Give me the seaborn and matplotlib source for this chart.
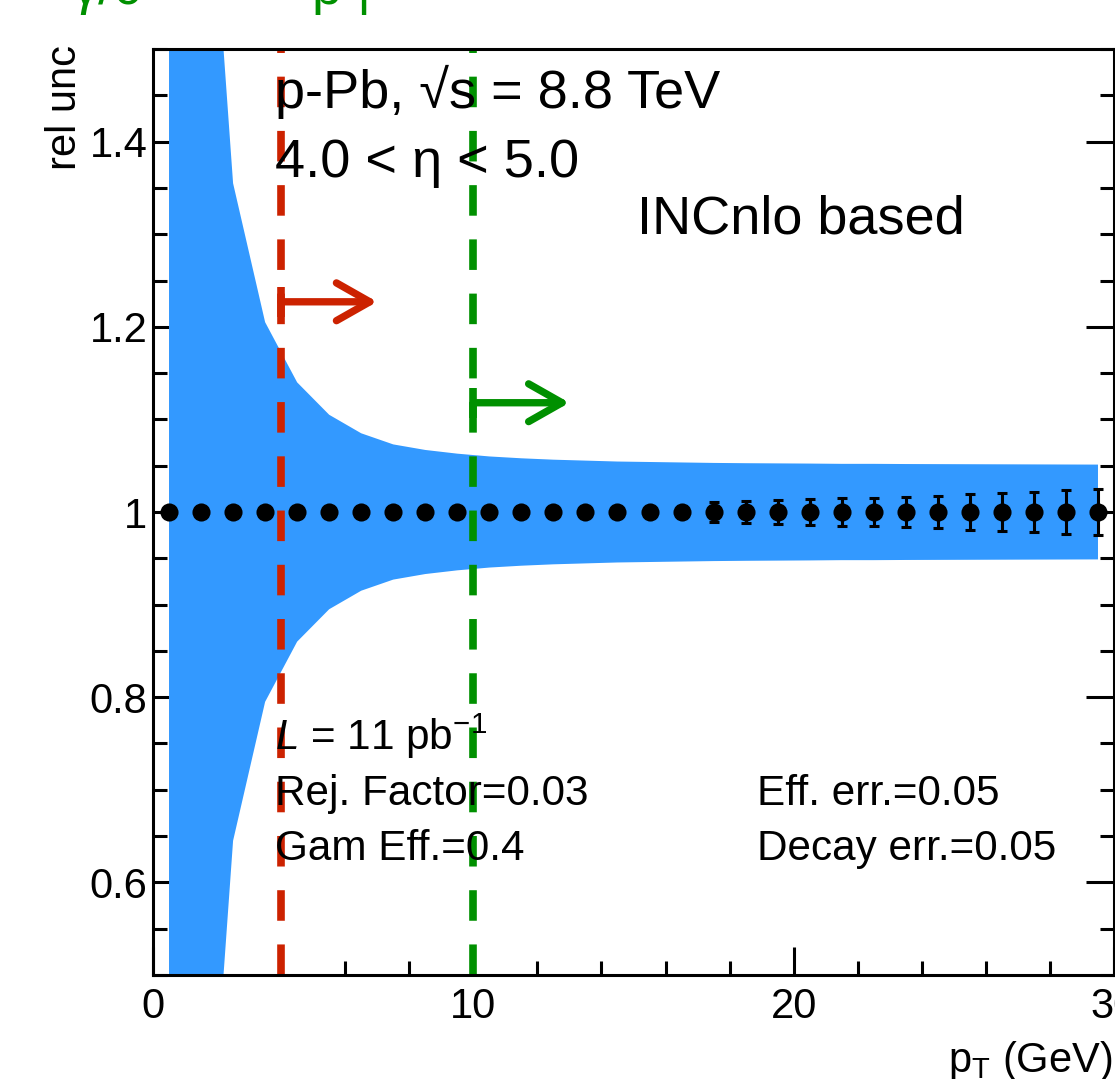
import numpy as np
import pandas as pd
import seaborn as sns
import matplotlib.pyplot as plt
from matplotlib.patches import ArrowStyle

# --------------------------
# Data
# --------------------------
pt = [0.5, 1.5, 2.5, 3.5, 4.5, 5.5, 6.5, 7.5, 8.5, 9.5,
      10.5, 11.5, 12.5, 13.5, 14.5, 15.5, 16.5, 17.5, 18.5, 19.5,
      20.5, 21.5, 22.5, 23.5, 24.5, 25.5, 26.5, 27.5, 28.5, 29.5]
rel_value = [1.0] * 30
stat_err = [0.001, 0.001, 0.001, 0.001, 0.001, 0.002, 0.002, 0.002, 0.002, 0.003,
            0.003, 0.003, 0.004, 0.004, 0.004, 0.005, 0.006, 0.0107, 0.0118, 0.0128,
            0.0139, 0.0148, 0.0155, 0.016, 0.0171, 0.019, 0.020, 0.0214, 0.0235, 0.0246]
band_half = [1.5, 0.84, 0.355, 0.205, 0.14, 0.105, 0.085, 0.073, 0.067, 0.063,
             0.060, 0.058, 0.0565, 0.0555, 0.0545, 0.054, 0.0535, 0.053, 0.0527, 0.0525,
             0.0523, 0.052, 0.052, 0.0518, 0.0517, 0.0516, 0.0515, 0.0514, 0.0513, 0.0512]

pt_cuts = [4, 10]
cut_colors = ["#cc2200", "#009000"]
arrow_y = [1.227, 1.118]
arrow_len = [3.0, 3.0]

yticks = [0.6, 0.8, 1.0, 1.2, 1.4]
ytick_labels = ["0.6", "0.8", "1", "1.2", "1.4"]
xticks = [0, 10, 20, 30]

df = pd.DataFrame({"pt": pt, "val": rel_value, "err": stat_err, "band": band_half})

# --------------------------
# Style
# --------------------------
sns.set_theme(style="ticks")
plt.rcParams["font.family"] = ["Liberation Sans", "DejaVu Sans"]
plt.rcParams["mathtext.fontset"] = "custom"
plt.rcParams["mathtext.rm"] = "Liberation Sans"
plt.rcParams["mathtext.it"] = "Liberation Sans:italic"
for key in ["text.color", "axes.labelcolor", "xtick.color", "ytick.color", "axes.edgecolor"]:
    plt.rcParams[key] = "black"

fig = plt.figure(figsize=(11.15, 10.79), dpi=100)
ax = fig.add_axes([153 / 1115, 1 - 975 / 1079, 961 / 1115, 926 / 1079])
ax.set_axisbelow(True)

# uncertainty band
ax.fill_between(df["pt"], df["val"] - df["band"], df["val"] + df["band"],
                color="#3399ff", linewidth=0, zorder=1)

# cut lines + arrows
for c, col, ya, ln in zip(pt_cuts, cut_colors, arrow_y, arrow_len):
    ax.axvline(c, color=col, lw=5.5, dashes=(4, 3.1), zorder=2)
    ax.plot([c, c], [ya - 0.016, ya + 0.016], color=col, lw=5.5, zorder=3,
            solid_capstyle="butt")
    ax.annotate("", xy=(c + ln, ya), xytext=(c, ya),
                arrowprops=dict(arrowstyle=ArrowStyle("->", head_length=1.2, head_width=0.68),
                                mutation_scale=20, color=col, lw=5.3,
                                shrinkA=0, shrinkB=0, capstyle="round"),
                zorder=3)

# points with error bars
ax.errorbar(df["pt"], df["val"], yerr=df["err"], fmt="none", ecolor="black",
            elinewidth=2.2, capsize=3.5, capthick=2.2, zorder=4)
sns.scatterplot(data=df, x="pt", y="val", ax=ax, color="black", s=170,
                linewidth=0, zorder=5, legend=False)

# axes
ax.set_xlim(0, 30)
ax.set_ylim(0.5, 1.5)
ax.set_xticks(xticks)
ax.set_xticks(np.arange(0, 31, 2), minor=True)
ax.set_yticks(yticks)
ax.set_yticklabels(ytick_labels)
ax.set_yticks(np.arange(0.5, 1.51, 0.05), minor=True)
ax.tick_params(axis="both", which="major", direction="in", length=20, width=2.2,
               labelsize=30, right=True, top=False, pad=4)
ax.tick_params(axis="both", which="minor", direction="in", length=10, width=2.2,
               right=True, top=False)
ax.tick_params(axis="x", which="major", pad=9)
for s in ax.spines.values():
    s.set_linewidth(2.2)
    s.set_color("black")
    s.set_zorder(6)

ax.set_xlabel(r"p$_{\mathrm{T}}$ (GeV)", fontsize=30, loc="right")
ax.xaxis.set_label_coords(0.998, -0.069)
ax.set_ylabel("rel unc", fontsize=30, loc="top")
ax.yaxis.set_label_coords(-0.071, 1.004)

def axpos(px, py):
    return (px - 153) / 961, (975 - py) / 926

big = 39
small = 30.4
ax.text(*axpos(275, 108), "p-Pb, √s = 8.8 TeV", transform=ax.transAxes,
        fontsize=big, va="baseline", zorder=7)
ax.text(*axpos(275, 177), "4.0 < η < 5.0", transform=ax.transAxes,
        fontsize=big, va="baseline", zorder=7)
ax.text(*axpos(637, 234), "INCnlo based", transform=ax.transAxes,
        fontsize=big, va="baseline", zorder=7)
ax.text(*axpos(275, 750), r"$\it{L}$ = 11 pb$^{-1}$", transform=ax.transAxes,
        fontsize=small, va="baseline", zorder=7)
ax.text(*axpos(275, 805), "Rej. Factor=0.03", transform=ax.transAxes,
        fontsize=small, va="baseline", zorder=7)
ax.text(*axpos(275, 860), "Gam Eff.=0.4", transform=ax.transAxes,
        fontsize=small, va="baseline", zorder=7)
ax.text(*axpos(757, 805), "Eff. err.=0.05", transform=ax.transAxes,
        fontsize=small, va="baseline", zorder=7)
ax.text(*axpos(757, 860), "Decay err.=0.05", transform=ax.transAxes,
        fontsize=small, va="baseline", zorder=7)

# green title, mostly cut off at the top edge (as in the reference)
fig.text(72 / 1115, 1 - 4 / 1079, "γ/0", color="#009000", fontsize=big, va="baseline")
fig.text(312 / 1115, 1 - 4 / 1079, "p |", color="#009000", fontsize=big, va="baseline")

fig.savefig("out.png", dpi=100)
